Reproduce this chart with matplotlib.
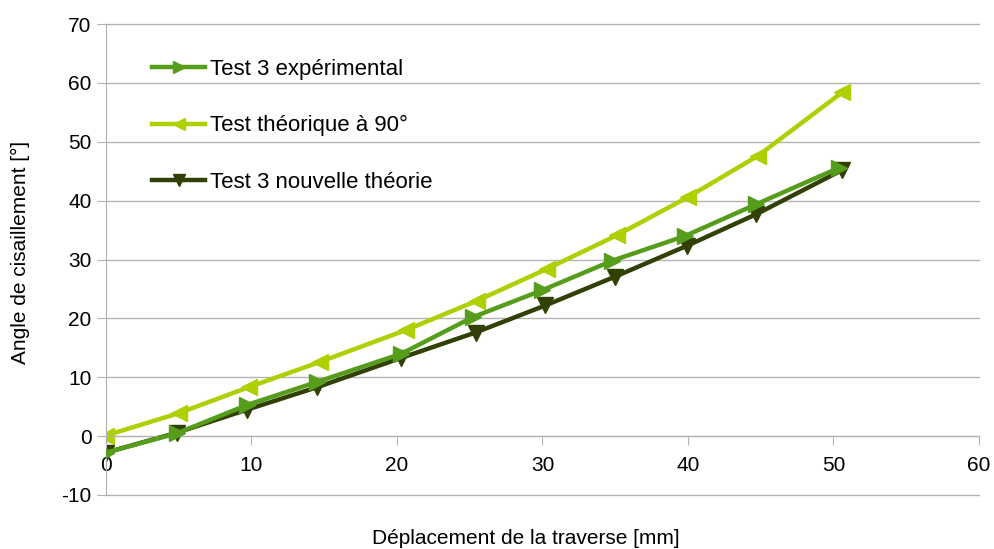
import matplotlib.pyplot as plt

plt.rcParams['font.family'] = ['Liberation Sans', 'DejaVu Sans']
plt.rcParams['font.size'] = 15
plt.rcParams['axes.unicode_minus'] = False

# data
x_exp = [0, 4.9, 9.7, 14.5, 20.3, 25.2, 30.0, 34.8, 39.8, 44.7, 50.4]
y_exp = [-2.8, 0.5, 5.3, 9.2, 14.0, 20.2, 24.8, 29.8, 34.0, 39.4, 45.6]

x_th = [0, 5.0, 9.8, 14.7, 20.6, 25.5, 30.3, 35.1, 40.0, 44.8, 50.6]
y_th = [0.1, 3.9, 8.3, 12.6, 18.0, 23.0, 28.4, 34.1, 40.6, 47.6, 58.4]

x_nv = [0, 4.9, 9.7, 14.5, 20.3, 25.4, 30.2, 35.0, 39.9, 44.7, 50.6]
y_nv = [-2.8, 0.6, 4.5, 8.3, 13.3, 17.6, 22.2, 27.1, 32.3, 37.7, 45.2]

labels = ['Test 3 expérimental', 'Test théorique à 90°', 'Test 3 nouvelle théorie']
colors = ['#579d1c', '#aecf00', '#314004']

fig = plt.figure(figsize=(9.95, 5.49), dpi=100)
ax = fig.add_axes([106/995, 1-495/549, (979-106)/995, (495-24)/549])

ax.plot(x_exp, y_exp, c=colors[0], lw=3.2, marker='>', markersize=11, label=labels[0], zorder=3)
ax.plot(x_th, y_th, c=colors[1], lw=3.2, marker='<', markersize=11, label=labels[1], zorder=2)
ax.plot(x_nv, y_nv, c=colors[2], lw=3.2, marker='v', markersize=11, label=labels[2], zorder=2.5)

ax.set_xlim(0, 60)
ax.set_ylim(-10, 70)
ax.set_xticks(range(0, 61, 10))
ax.set_yticks(range(-10, 71, 10))
ax.grid(True, axis='y', color='#b3b3b3', lw=1)
for gl in ax.get_ygridlines():
    gl.set_clip_on(False)
ax.set_axisbelow(True)

for s in ['top', 'right']:
    ax.spines[s].set_visible(False)
ax.spines['bottom'].set_position(('data', 0))
ax.spines['bottom'].set_color('#b3b3b3')
ax.spines['left'].set_color('#b3b3b3')
ax.tick_params(axis='both', color='#b3b3b3', length=6.5, labelsize=15)
ax.tick_params(axis='x', pad=8)
ax.tick_params(axis='y', pad=4)

ax.legend(loc='upper left', bbox_to_anchor=(35/873, 0.95), frameon=False, borderpad=0,
          labelspacing=1.6, handlelength=2.4, handletextpad=0.2, fontsize=16,
          markerscale=0.75)

fig.text(526/995, 1-538/549, 'Déplacement de la traverse [mm]', ha='center', va='center', fontsize=15)
fig.text(20/995, 1-252/549, 'Angle de cisaillement [°]', ha='center', va='center', rotation=90, fontsize=15)

plt.savefig('out.png', dpi=100)
